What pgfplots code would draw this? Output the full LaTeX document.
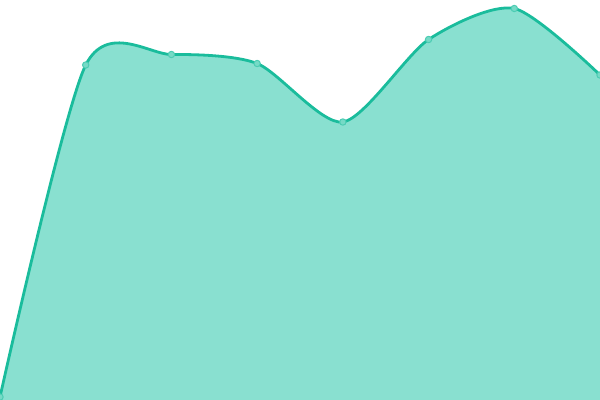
\documentclass[border=0pt]{standalone}
\usepackage{pgfplots}
\pgfplotsset{compat=1.18}
\definecolor{tealline}{RGB}{26,188,156}
\definecolor{tealfill}{RGB}{137,224,208}
\definecolor{tealmark}{RGB}{118,218,198}
\begin{document}
\begin{tikzpicture}
\begin{axis}[
    scale only axis, width=600bp, height=400bp,
    hide axis,
    xmin=0, xmax=7, ymin=0, ymax=400,
    clip=true]
  \addplot[draw=none, fill=tealfill, smooth, tension=0.45] coordinates {
    (0,3) (1,335) (2,345.5) (3,336.5) (4,278) (5,360.5) (6,391.5) (7,325)
  } \closedcycle;
  \addplot[tealline, line width=2.8bp, smooth, tension=0.45,
    mark=*, mark size=3.2bp,
    mark options={fill=tealmark, draw=tealline!55!tealfill, line width=1bp}] coordinates {
    (0,3) (1,335) (2,345.5) (3,336.5) (4,278) (5,360.5) (6,391.5) (7,325)
  };
\end{axis}
\pgfresetboundingbox
\path[use as bounding box] (current axis.south west) rectangle (current axis.north east);
\end{tikzpicture}
\end{document}
